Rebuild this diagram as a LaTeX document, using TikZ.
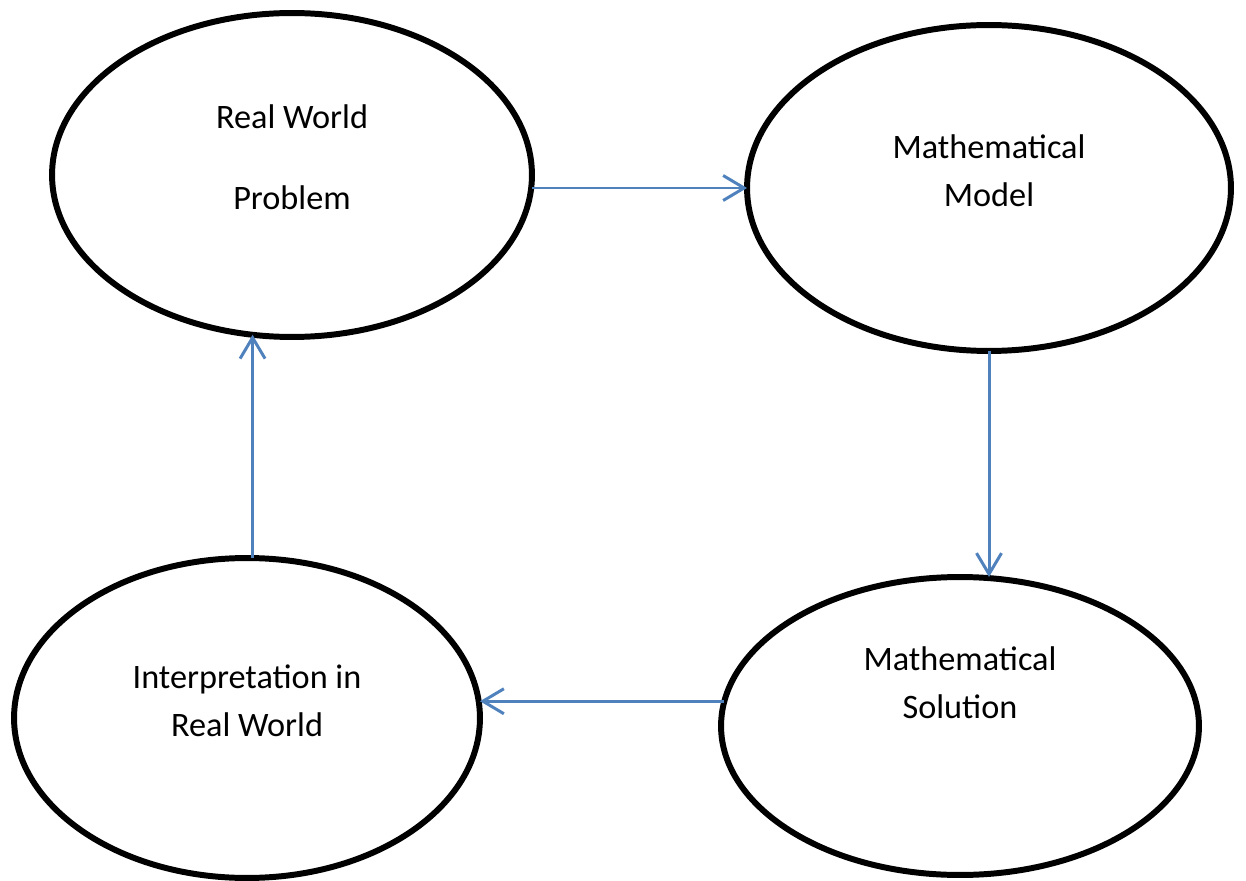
\documentclass[tikz,border=0pt]{standalone}
\usepackage{fontspec}
\setmainfont{Carlito}
\usetikzlibrary{arrows.meta,shapes.geometric}
\definecolor{arrowblue}{RGB}{79,129,189}
\tikzset{
    %Define standard arrow tip
    >={Straight Barb[length=4.2mm,width=5mm]},
    %Define style for the ellipses
    stage/.style={
           ellipse,
           draw=black, line width=3.4pt,
           outer sep=0pt,
           inner sep=0pt},
    annote/.style={
          font=\fontsize{19.5}{27.3}\selectfont,
          align=center
    },
    % Define arrow style
    arrow/.style={
           ->,
           draw=arrowblue,
           line width=1.7pt},
}

\begin{document}
\begin{tikzpicture}[x=0.02cm,y=-0.02cm]
  \useasboundingbox (0,0) rectangle (1246,881);
  \node[stage, minimum width=9.6cm,  minimum height=6.48cm] (real)   at (292,175) {};
  \node[stage, minimum width=9.68cm, minimum height=6.52cm] (model)  at (989,188) {};
  \node[stage, minimum width=9.32cm, minimum height=6.4cm]  (interp) at (247,718) {};
  \node[stage, minimum width=9.56cm, minimum height=5.96cm] (sol)    at (960,726) {};
  \node[annote] (realtxt)   at ([yshift=0.36cm]real.center)   {Real World\\[18.7pt]Problem};
  \node[annote] (modeltxt)  at ([yshift=0.34cm]model.center)  {Mathematical\\Model};
  \node[annote] (interptxt) at ([yshift=0.34cm]interp.center) {Interpretation in\\Real World};
  \node[annote] (soltxt)    at ([yshift=0.86cm]sol.center)    {Mathematical\\Solution};
  \path (real.east |- model.west) edge[arrow] (model.west);
  \path (model.south) edge[arrow] (model.south |- sol.north);
  \path (sol.174) edge[arrow] (sol.174 -| interp.east);
  \path (interp.88) edge[arrow] (interp.88 |- real.256);
\end{tikzpicture}
\end{document}
